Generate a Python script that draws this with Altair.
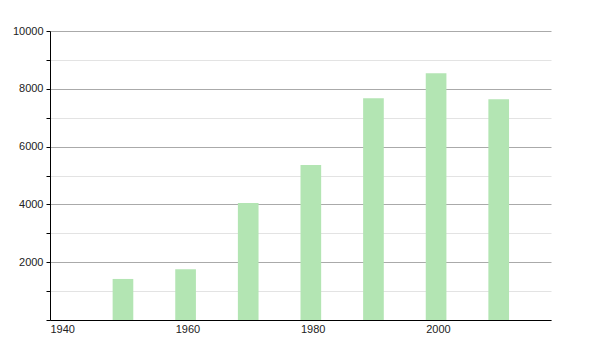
import altair as alt
import pandas as pd

years = [1950, 1960, 1970, 1980, 1990, 2000, 2010]
population = [1420, 1760, 4050, 5360, 7670, 8540, 7640]
x_ticks = [1940, 1960, 1980, 2000]
y_ticks = list(range(0, 10001, 1000))

df = pd.DataFrame({"year": years, "pop": population})

chart = alt.Chart(df).transform_calculate(
    year_end="datum.year + 3.3"
).mark_bar(color="#b3e5b3").encode(
    x=alt.X("year:Q", scale=alt.Scale(domain=[1940, 2020], nice=False, zero=False, padding=0),
            axis=alt.Axis(values=x_ticks, title=None, ticks=False, grid=False,
                          labelAlign="left", labelPadding=3, format="d",
                          domainColor="#000", labelColor="#222",
                          labelFont="Liberation Sans", labelFontSize=11)),
    x2="year_end:Q",
    y=alt.Y("pop:Q", scale=alt.Scale(domain=[0, 10000], nice=False, padding=0),
            axis=alt.Axis(values=y_ticks, title=None, format="d",
                          labelExpr="datum.value % 2000 == 0 && datum.value > 0 ? datum.label : ''",
                          gridColor={"condition": {"test": "datum.value % 2000 == 0", "value": "#aaaaaa"}, "value": "#e3e3e3"},
                          tickColor="#000", tickSize=4, domainColor="#000",
                          labelColor="#222", labelFont="Liberation Sans", labelFontSize=11,
                          labelPadding=3)),
    y2=alt.datum(0),
).properties(
    width=501, height=289,
    autosize=alt.AutoSizeParams(type="none"),
    padding={"left": 50, "top": 31, "right": 49, "bottom": 30},
).configure_view(stroke=None).configure_axis(domainWidth=1)

chart.save("out.html", embed_options={"renderer": "svg", "actions": False})
